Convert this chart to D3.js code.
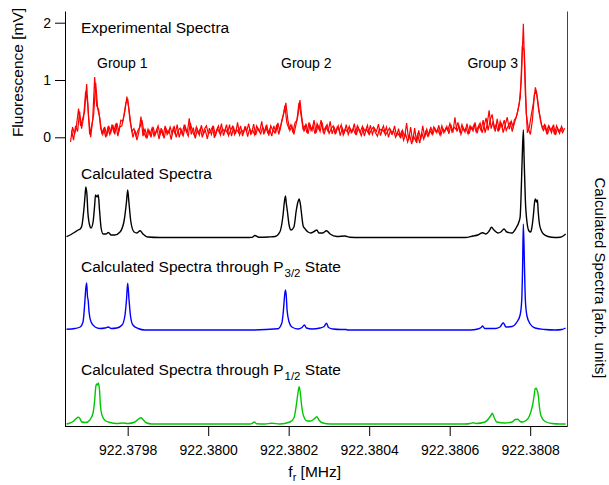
<!DOCTYPE html>
<html>
<head>
<meta charset="utf-8">
<script src="https://cdn.jsdelivr.net/npm/d3@7"></script>
<style>
  body { margin: 0; background: #fff; }
  svg { display: block; font-family: "Liberation Sans", Arial, sans-serif; }
  text { white-space: pre; }
</style>
</head>
<body>
<svg id="chart"></svg>
<script>
(function () {
  'use strict';

  // frequencies are offsets in Hz from 922.3798 MHz
  const freqBase = 922.3798;
  const xTicks = [0, 200, 400, 600, 800, 1000];
  const yTicks = [0, 1, 2];
  const groupNames = ['Group 1', 'Group 2', 'Group 3'];

  // experimental fluorescence [mV], two sweeps sampled every 5 Hz
  const expStepHz = 5;
  const sweepAStartHz = -142;
  const sweepA = [
    -0.08, 0.18, 0.05, 0.22, 0.5, 0.2, 0.32, 0.45, 0.93, 0.35,
    0.0, 0.3, 1.05, 0.55, 0.48, 0.15, 0.05, 0.18, 0.02, 0.2,
    0.08, 0.22, 0.05, 0.25, 0.1, 0.3, 0.28, 0.45, 0.71, 0.5,
    0.22, 0.0, 0.12, -0.05, 0.1, 0.36, 0.02, 0.15, -0.02, 0.12,
    0.0, 0.18, 0.04, 0.14, -0.03, 0.16, 0.02, 0.2, 0.05, 0.12,
    -0.04, 0.15, 0.06, 0.22, 0.0, 0.13, 0.03, 0.19, 0.08, 0.33,
    0.05, 0.17, -0.02, 0.14, 0.04, 0.21, 0.06, 0.12, -0.03, 0.16,
    0.05, 0.2, 0.02, 0.15, 0.08, 0.24, 0.03, 0.14, 0.07, 0.22,
    0.02, 0.17, 0.06, 0.26, 0.04, 0.13, 0.08, 0.19, 0.01, 0.15,
    0.07, 0.23, 0.04, 0.16, 0.1, 0.28, 0.05, 0.18, 0.08, 0.14,
    0.02, 0.2, 0.09, 0.25, 0.12, 0.3, 0.42, 0.6, 0.3, 0.12,
    0.2, 0.05, 0.22, 0.38, 0.65, 0.32, 0.1, 0.24, 0.06, 0.22,
    0.12, 0.3, 0.08, 0.2, 0.1, 0.26, 0.05, 0.18, 0.1, 0.28,
    0.06, 0.17, 0.09, 0.2, 0.03, 0.16, 0.08, 0.22, 0.05, 0.15,
    0.1, 0.24, 0.04, 0.17, 0.09, 0.19, 0.02, 0.15, 0.07, 0.21,
    0.05, 0.16, 0.1, 0.23, 0.03, 0.14, 0.08, 0.18, 0.0, 0.13,
    0.06, 0.2, 0.02, 0.15, -0.02, 0.12, 0.0, 0.25, -0.05, 0.18,
    -0.08, 0.16, -0.1, 0.12, -0.04, 0.2, 0.0, 0.14, 0.03, 0.18,
    0.05, 0.16, 0.08, 0.21, 0.04, 0.15, 0.1, 0.19, 0.06, 0.22,
    0.08, 0.35, 0.1, 0.2, 0.05, 0.17, 0.09, 0.24, 0.06, 0.18,
    0.11, 0.26, 0.07, 0.2, 0.12, 0.3, 0.08, 0.22, 0.47, 0.15,
    0.28, 0.1, 0.32, 0.12, 0.25, 0.08, 0.22, 0.35, 0.14, 0.28,
    0.18, 0.3, 0.42, 0.6, 1.0, 1.98, 0.75, 0.08, 0.18, 0.4,
    0.6, 0.87, 0.68, 0.42, 0.22, 0.12, 0.2, 0.05, 0.18, 0.08,
    0.22, 0.04, 0.16, 0.07, 0.19, 0.1
  ];
  const sweepBStartHz = -139.5;
  const sweepB = [
    0.12, -0.05, 0.2, 0.1, 0.45, 0.15, 0.35, 0.8, 0.6, 0.05,
    0.2, 0.4, 0.95, 0.5, 0.35, 0.08, 0.15, 0.0, 0.16, 0.05,
    0.2, 0.1, 0.24, 0.02, 0.18, 0.2, 0.38, 0.6, 0.65, 0.3,
    0.1, 0.15, 0.03, 0.12, 0.18, 0.3, 0.08, 0.0, 0.14, 0.05,
    0.16, 0.02, 0.1, 0.2, 0.05, 0.12, -0.02, 0.15, 0.08, 0.18,
    0.06, 0.2, 0.0, 0.12, 0.16, 0.05, 0.22, 0.1, 0.02, 0.25,
    0.12, 0.03, 0.18, 0.07, 0.15, 0.0, 0.14, 0.2, 0.06, 0.1,
    0.18, -0.01, 0.12, 0.2, 0.04, 0.15, 0.1, 0.22, 0.03, 0.12,
    0.19, 0.05, 0.14, 0.08, 0.2, 0.02, 0.17, 0.1, 0.24, 0.06,
    0.13, 0.04, 0.2, 0.12, 0.06, 0.18, 0.09, 0.22, 0.03, 0.2,
    0.12, 0.08, 0.22, 0.05, 0.2, 0.35, 0.55, 0.25, 0.15, 0.22,
    0.08, 0.25, 0.3, 0.6, 0.4, 0.15, 0.2, 0.08, 0.26, 0.12,
    0.2, 0.06, 0.24, 0.14, 0.3, 0.1, 0.16, 0.22, 0.07, 0.15,
    0.2, 0.05, 0.18, 0.12, 0.22, 0.04, 0.14, 0.1, 0.19, 0.08,
    0.15, 0.06, 0.2, 0.11, 0.03, 0.16, 0.1, 0.21, 0.05, 0.13,
    0.18, 0.08, 0.02, 0.15, 0.12, 0.2, 0.04, 0.1, 0.16, 0.06,
    0.12, 0.0, 0.08, 0.02, 0.1, -0.05, 0.06, -0.08, 0.04, -0.12,
    0.02, -0.06, 0.05, -0.1, 0.08, -0.03, 0.1, 0.02, 0.12, 0.06,
    0.18, 0.1, 0.14, 0.05, 0.2, 0.08, 0.16, 0.12, 0.24, 0.1,
    0.18, 0.14, 0.26, 0.08, 0.22, 0.12, 0.16, 0.06, 0.2, 0.14,
    0.22, 0.1, 0.18, 0.25, 0.08, 0.2, 0.34, 0.12, 0.3, 0.4,
    0.16, 0.22, 0.1, 0.28, 0.18, 0.3, 0.12, 0.2, 0.26, 0.1,
    0.3, 0.35, 0.5, 0.7, 1.6, 1.5, 0.4, 0.15, 0.05, 0.3,
    0.75, 0.8, 0.5, 0.3, 0.15, 0.22, 0.08, 0.2, 0.12, 0.18,
    0.05, 0.2, 0.1, 0.15, 0.08, 0.16
  ];

  // calculated spectra [Hz, arb. units]
  const calcTotal = [
    [-152,0.08],[-143,0.25],[-131,0.55],[-123,0.75],[-118,0.85],[-114,1.15],[-109,2.75],[-106,4.15],
    [-104,5.05],[-101,4.15],[-99,2.55],[-94,1.15],[-91,0.95],[-86,1.55],[-82,3.25],[-80,4.25],
    [-76,4.05],[-73,4.25],[-70,2.75],[-66,0.95],[-61,0.35],[-54,0.35],[-48,0.5],[-41,0.25],
    [-32,0.25],[-19,0.55],[-9,1.65],[-3,3.55],[0,4.75],[3,3.55],[8,1.55],[16,0.55],[23,0.45],
    [31,0.68],[38,0.35],[50,0.05],[80,0],[300,0],[309,0.01],[316,0.2],[326,0.02],[350,0.05],
    [366,0.1],[378,0.55],[386,2.25],[389,3.45],[392,4.15],[394,3.45],[397,2.55],[401,1.25],
    [406,0.75],[413,1.05],[419,2.75],[423,3.55],[426,3.85],[429,3.35],[432,2.35],[436,1.15],
    [441,0.85],[448,0.55],[455,0.45],[463,0.6],[470,0.75],[475,0.45],[485,0.45],[494,0.68],
    [503,0.35],[520,0.1],[540,0.15],[552,0.02],[577,0],[838,0],[858,0.15],[870,0.25],[882,0.48],
    [890,0.35],[898,0.65],[904,1.02],[910,0.75],[920,0.45],[927,0.55],[935,0.85],[942,0.55],
    [955,0.45],[965,0.95],[972,1.55],[975,2.05],[977,3.75],[980,7.75],[983,10.75],[985,7.75],
    [988,3.75],[992,1.55],[997,0.65],[1001,0.55],[1004,0.95],[1008,2.25],[1011,3.55],[1013,3.85],
    [1016,3.55],[1018,3.75],[1020,2.55],[1023,1.35],[1028,0.65],[1033,0.35],[1044,0.1],[1062,0],
    [1074,0.02],[1082,0.15],[1088,0.35]
  ];
  const calcP32 = [
    [-152,0.07],[-131,0.15],[-118,0.3],[-111,0.8],[-107,2.5],[-104,4.2],[-102,4.7],[-100,3.4],
    [-98,2.9],[-96,1.8],[-91,0.8],[-81,0.3],[-69,0.15],[-56,0.2],[-48,0.3],[-41,0.15],[-27,0.2],
    [-14,0.5],[-7,1.4],[-3,3.0],[0,4.67],[3,3.2],[7,1.4],[13,0.5],[26,0.15],[43,0],[304,0],
    [373,0.12],[383,0.7],[387,2.0],[390,3.5],[392,4.0],[394,3.4],[396,2.0],[401,0.8],[408,0.3],
    [423,0.1],[433,0.25],[439,0.5],[444,0.2],[458,0.1],[478,0.2],[488,0.35],[494,0.67],[499,0.25],
    [510,0.1],[530,0.05],[542,0.05],[547,0],[851,0],[870,0.1],[878,0.25],[882,0.4],[887,0.15],
    [913,0.15],[925,0.3],[933,0.73],[940,0.3],[955,0.35],[967,0.8],[975,1.5],[979,3.0],[981,6.0],
    [983,10.6],[986,6.0],[988,3.0],[992,1.4],[1000,0.6],[1012,0.2],[1037,0.05],[1062,0],
    [1079,0.05],[1088,0.2]
  ];
  const calcP12 = [
    [-152,0],[-143,0.1],[-134,0.3],[-128,0.55],[-123,0.67],[-118,0.5],[-114,0.2],[-104,0.15],
    [-94,0.4],[-86,1.1],[-82,2.4],[-79,3.8],[-77,4.0],[-75,3.9],[-73,4.1],[-70,3.4],[-68,2.0],
    [-64,0.9],[-56,0.35],[-44,0.15],[-27,0.05],[-12,0.1],[1,0.05],[18,0.2],[27,0.5],[33,0.63],
    [38,0.45],[45,0.15],[60,0],[304,0],[310,0.08],[315,0.2],[320,0.03],[341,0],[358,0.07],[378,0],
    [403,0.2],[413,0.6],[419,1.9],[423,3.1],[426,3.73],[429,3.1],[432,1.9],[437,0.8],[446,0.3],
    [455,0.3],[463,0.5],[470,0.73],[475,0.4],[485,0.1],[503,0],[838,0],[851,0.05],[859,0.13],
    [865,0.05],[888,0.2],[898,0.6],[903,0.9],[906,1.07],[910,0.7],[917,0.2],[937,0.1],[955,0.2],
    [963,0.45],[969,0.47],[975,0.25],[980,0.2],[990,0.35],[998,0.8],[1003,1.4],[1006,1.9],
    [1010,2.9],[1012,3.5],[1015,3.57],[1017,3.4],[1020,2.9],[1023,1.7],[1027,0.8],[1037,0.25],
    [1054,0.05],[1074,0],[1088,0]
  ];

  const width = 609;
  const height = 485;
  const frame = {left: 65.5, right: 567.5, top: 11, bottom: 426.5};
  const font = 15.5;
  const tickFont = '14px';

  const svg = d3.select('#chart')
    .attr('width', width)
    .attr('height', height);

  const x = d3.scaleLinear()
    .domain([-154.5, 1092.7])
    .range([frame.left, frame.right]);
  const yExp = d3.scaleLinear()
    .domain([-5.047, 2.204])
    .range([frame.bottom, frame.top]);
  const yCalc = d3.scaleLinear()
    .domain([0, 41.55])
    .range([frame.bottom, frame.top]);

  // stacking offsets of the calculated traces (arb. units)
  const traces = [
    {data: calcTotal, offset: 18.9, color: '#000000'},
    {data: calcP32, offset: 9.65, color: '#0000ff'},
    {data: calcP12, offset: 0.25, color: '#00c800'}
  ];

  traces.forEach(t => {
    const line = d3.line()
      .x(d => x(d[0]))
      .y(d => yCalc(d[1] + t.offset))
      .curve(d3.curveMonotoneX);
    svg.append('path')
      .datum(t.data)
      .attr('fill', 'none')
      .attr('stroke', t.color)
      .attr('stroke-width', 1.4)
      .attr('stroke-linejoin', 'round')
      .attr('d', line);
  });

  const expLine = d3.line().x(d => x(d[0])).y(d => yExp(d[1]));
  [[sweepA, sweepAStartHz], [sweepB, sweepBStartHz]].forEach(([vals, start]) => {
    svg.append('path')
      .datum(vals.map((v, i) => [start + i * expStepHz, v]))
      .attr('fill', 'none')
      .attr('stroke', '#ff0000')
      .attr('stroke-width', 1.2)
      .attr('d', expLine);
  });

  // axes
  const xAxis = svg.append('g')
    .attr('transform', `translate(0,${frame.bottom - 0.5})`)
    .call(d3.axisBottom(x)
      .tickValues(xTicks)
      .tickSize(10)
      .tickSizeOuter(0)
      .tickFormat(t => (freqBase + t * 1e-6).toFixed(4)));
  xAxis.selectAll('text')
    .attr('y', 28.5)
    .attr('dy', null)
    .style('font-size', tickFont)
    .style('font-family', '"Liberation Sans", Arial, sans-serif')
    .attr('fill', '#000');

  const yAxis = svg.append('g')
    .attr('transform', `translate(${frame.left - 0.5},0)`)
    .call(d3.axisLeft(yExp)
      .tickValues(yTicks)
      .tickSize(10)
      .tickPadding(4)
      .tickSizeOuter(0));
  yAxis.selectAll('text')
    .style('font-size', tickFont)
    .style('font-family', '"Liberation Sans", Arial, sans-serif')
    .attr('fill', '#000');

  const rAxis = svg.append('g')
    .attr('transform', `translate(${frame.right - 0.5},0)`)
    .call(d3.axisRight(yCalc).tickValues([]).tickSizeOuter(0));
  rAxis.select('.domain').attr('stroke', '#444');

  // labels
  const addText = (tx, ty, str, size, anchor) => svg.append('text')
    .attr('x', tx)
    .attr('y', ty)
    .attr('text-anchor', anchor || 'start')
    .style('font-size', size + 'px')
    .text(str);

  addText(81, 33, 'Experimental Spectra', font);
  addText(97, 68, groupNames[0], 14);
  addText(281, 68, groupNames[1], 14);
  addText(518, 68, groupNames[2], 14, 'end');
  addText(81, 179, 'Calculated Spectra', font);

  const subLabel = (ty, sub) => {
    const t = svg.append('text')
      .attr('x', 81)
      .attr('y', ty)
      .style('font-size', font + 'px');
    t.append('tspan').text('Calculated Spectra through P');
    t.append('tspan').attr('dx', 1).attr('dy', 5).style('font-size', '11.5px').text(sub);
    t.append('tspan').attr('dy', -5).text(' State');
  };
  subLabel(272, '3/2');
  subLabel(375, '1/2');

  svg.append('text')
    .attr('transform', 'translate(23,72.5) rotate(-90)')
    .attr('text-anchor', 'middle')
    .style('font-size', font + 'px')
    .text('Fluorescence [mV]');

  svg.append('text')
    .attr('transform', 'translate(595,278) rotate(90)')
    .attr('text-anchor', 'middle')
    .style('font-size', '15px')
    .text('Calculated Spectra [arb. units]');

  const xl = svg.append('text')
    .attr('x', 314.7)
    .attr('y', 477)
    .attr('text-anchor', 'middle')
    .style('font-size', font + 'px');
  xl.append('tspan').text('f');
  xl.append('tspan').attr('dy', 4).style('font-size', '11px').text('r');
  xl.append('tspan').attr('dy', -4).text(' [MHz]');

}());
</script>
</body>
</html>
